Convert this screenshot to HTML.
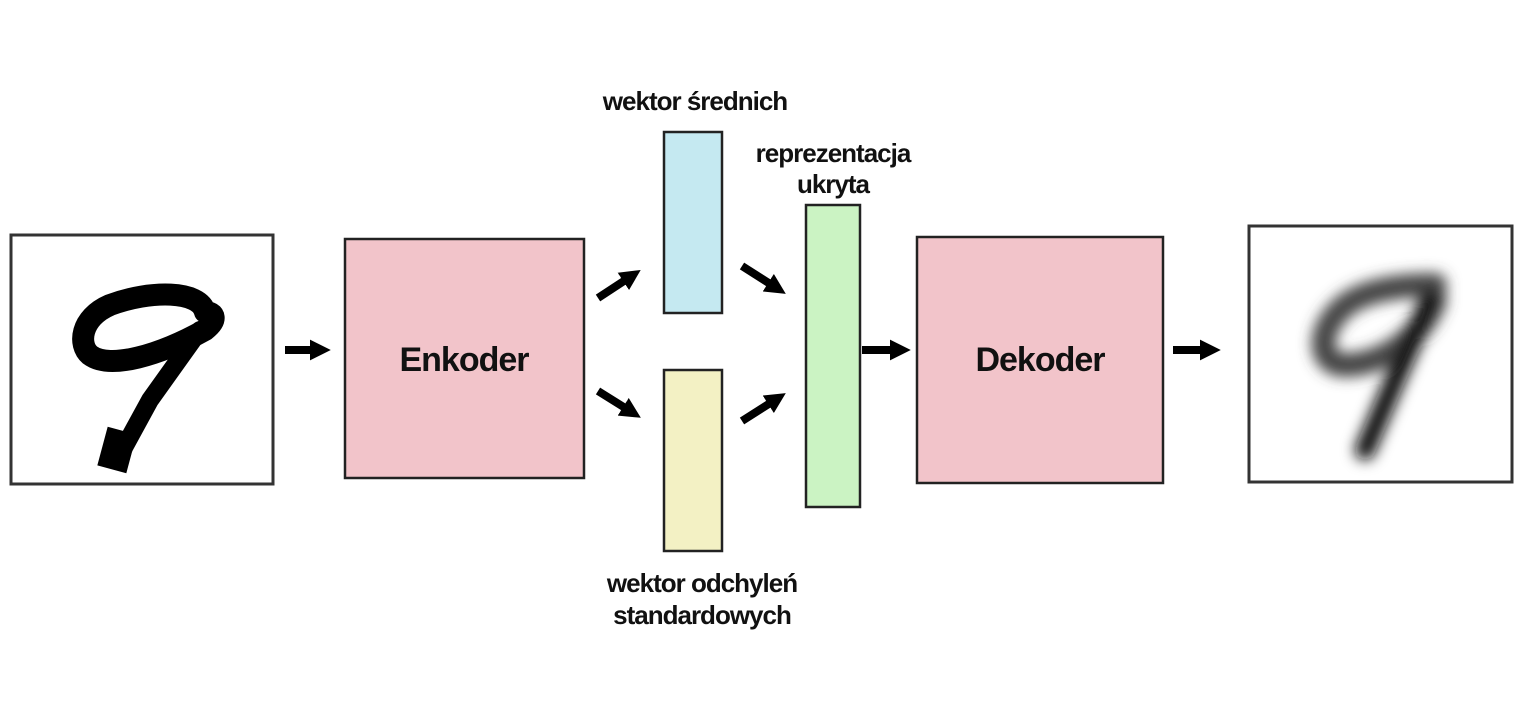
<!DOCTYPE html>
<html><head><style>
html,body{margin:0;padding:0;background:#fff;}
svg{display:block;}
text{font-family:"Liberation Sans",sans-serif;font-weight:bold;fill:#111;}
</style></head><body>
<svg width="1525" height="704" viewBox="0 0 1525 704">
<defs>
<marker id="ah" markerWidth="2.6" markerHeight="2.6" refX="1" refY="1.3" orient="auto" markerUnits="strokeWidth">
<path d="M0,0 L2.6,1.3 L0,2.6 Z" fill="#000"/>
</marker>
<filter id="bl" x="-50%" y="-50%" width="200%" height="200%"><feGaussianBlur stdDeviation="7"/></filter>
</defs>
<!-- input image -->
<rect x="11" y="235" width="262" height="249" fill="#fff" stroke="#333" stroke-width="3"/>
<g fill="none" stroke="#000" stroke-linecap="round" stroke-linejoin="round">
<path d="M205,312 C200,290 150,290 110,305 C80,318 78,345 90,355 C110,370 160,355 205,330 C218,320 215,312 205,312" stroke-width="22"/>
<path d="M200,330 L150,400 L120,455" stroke-width="18"/>
</g>
<rect x="102" y="430" width="30" height="40" fill="#000" transform="rotate(15 117 450)"/>
<!-- output image -->
<rect x="1249" y="226" width="263" height="256" fill="#fff" stroke="#333" stroke-width="3"/>
<g filter="url(#bl)" fill="none" stroke-linecap="round" stroke-linejoin="round">
<path d="M1435,285 C1400,285 1360,290 1340,310 C1315,335 1320,365 1345,365 C1380,365 1420,340 1435,300" stroke-width="24" stroke="#444"/>
<path d="M1430,300 L1395,380 L1365,450" stroke-width="20" stroke="#111"/>
</g>
<!-- boxes -->
<rect x="345" y="239" width="239" height="239" fill="#f2c4ca" stroke="#222" stroke-width="2.5"/>
<text x="464" y="371" font-size="34" text-anchor="middle" letter-spacing="-1">Enkoder</text>
<rect x="664" y="132" width="58" height="181" fill="#c5e9f1" stroke="#222" stroke-width="2.5"/>
<rect x="664" y="370" width="58" height="181" fill="#f3f1c4" stroke="#222" stroke-width="2.5"/>
<rect x="806" y="205" width="54" height="302" fill="#cbf3c3" stroke="#222" stroke-width="2.5"/>
<rect x="917" y="237" width="246" height="246" fill="#f2c4ca" stroke="#222" stroke-width="2.5"/>
<text x="1040" y="371" font-size="34" text-anchor="middle" letter-spacing="-1">Dekoder</text>
<!-- arrows -->
<g stroke="#000" stroke-width="8" marker-end="url(#ah)">
<line x1="285" y1="350" x2="318" y2="350"/>
<line x1="862" y1="350" x2="898" y2="350"/>
<line x1="1173" y1="350" x2="1208" y2="350"/>
<line x1="598" y1="298" x2="630" y2="277"/>
<line x1="598" y1="391" x2="630" y2="411"/>
<line x1="742" y1="266" x2="775" y2="287"/>
<line x1="742" y1="421" x2="775" y2="400"/>
</g>
<!-- labels -->
<text x="695" y="110" font-size="26" text-anchor="middle" letter-spacing="-1">wektor średnich</text>
<text x="833" y="162" font-size="26" text-anchor="middle" letter-spacing="-1">reprezentacja</text>
<text x="833" y="193" font-size="26" text-anchor="middle" letter-spacing="-1">ukryta</text>
<text x="702" y="592" font-size="26" text-anchor="middle" letter-spacing="-1">wektor odchyleń</text>
<text x="702" y="624" font-size="26" text-anchor="middle" letter-spacing="-1">standardowych</text>
</svg>
</body></html>
